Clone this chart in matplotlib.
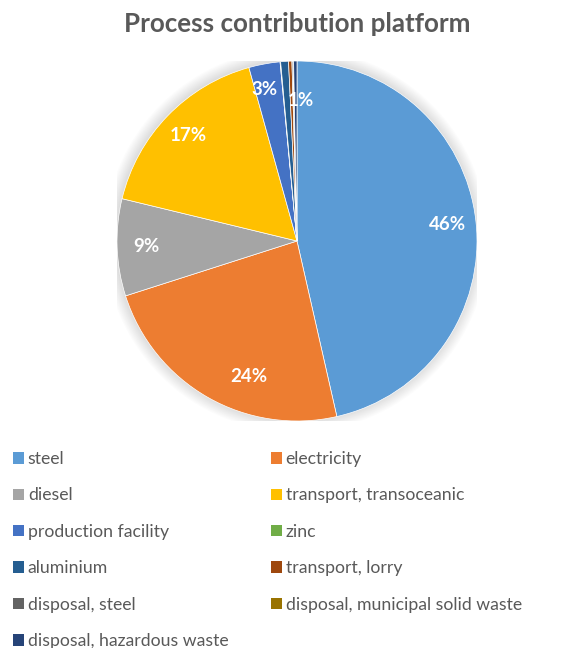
import numpy as np
import matplotlib
matplotlib.use("Agg")
import matplotlib.pyplot as plt
from matplotlib.patches import Circle, Patch

# Process contributions (share of total, %)
processes = [
    "steel", "electricity", "diesel", "transport, transoceanic",
    "production facility", "zinc", "aluminium", "transport, lorry",
    "disposal, steel", "disposal, municipal solid waste",
    "disposal, hazardous waste",
]
shares = [46.4, 23.6, 8.7, 16.9, 2.8, 0.05, 0.7, 0.3, 0.1, 0.05, 0.3]
colors = ["#5B9BD5", "#ED7D31", "#A5A5A5", "#FFC000", "#4472C4", "#70AD47",
          "#255E91", "#9E480E", "#636363", "#997300", "#264478"]
# Percent labels shown on the chart (None = no label)
pct_labels = ["46%", "24%", "9%", "17%", "3%", None, "1%", None, None, None, None]
# label placement tweaks (angle shift in degrees, radius fraction)
label_shift = {1: (10, 0.80), 4: (1.5, 0.86), 6: (-5.5, 0.78)}

W, H = 588, 648
fig = plt.figure(figsize=(W / 100, H / 100), dpi=100)
fig.patch.set_facecolor("white")

cx, cy, r = 297, 241, 180
ax = fig.add_axes([(cx - r) / W, (H - cy - r) / H, 2 * r / W, 2 * r / H])
ax.axis("off")

# soft shadow around the pie
for k in range(12):
    ax.add_patch(Circle((-0.004, 0.004), 1.0 + 0.006 * k, color="black",
                        alpha=0.012, lw=0, zorder=0))

wedges, _ = ax.pie(shares, colors=colors, startangle=90, counterclock=False,
                   radius=1.0, wedgeprops=dict(edgecolor="white", linewidth=0.5))
for w in wedges:
    w.set_zorder(2)
ax.set_xlim(-1, 1)
ax.set_ylim(-1, 1)
ax.set_aspect("equal")

for i, (w, lab) in enumerate(zip(wedges, pct_labels)):
    if lab is None:
        continue
    mid = (w.theta1 + w.theta2) / 2
    shift, frac = label_shift.get(i, (0, 0.84))
    ang = np.deg2rad(mid + shift)
    ax.text(frac * np.cos(ang), frac * np.sin(ang), lab, ha="center",
            va="center", color="white", fontsize=13.5, fontweight="bold",
            family="Lato", zorder=5)

fig.text(cx / W, 1 - 24 / H, "Process contribution platform", ha="center",
         va="center", fontsize=18.7, fontweight="bold", color="#595959",
         family="Lato")

handles = [Patch(facecolor=c, edgecolor="none") for c in colors]
order = list(range(0, len(processes), 2)) + list(range(1, len(processes), 2))
leg = fig.legend([handles[i] for i in order], [processes[i] for i in order],
                 ncol=2, loc="upper left", bbox_to_anchor=(13 / W, 1 - 451 / H),
                 frameon=False, handlelength=0.62,
                 handleheight=0.62, handletextpad=0.22, labelspacing=1.16,
                 columnspacing=2.4, borderaxespad=0, borderpad=0,
                 prop=dict(family="Lato", size=12.7))
for t in leg.get_texts():
    t.set_color("#595959")

fig.savefig("out.png", dpi=100, facecolor="white")
